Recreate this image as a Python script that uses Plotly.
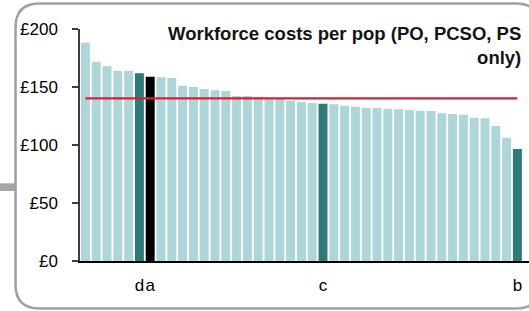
import plotly.graph_objects as go

# ---- data ----
values = [188.4, 172.1, 168.1, 164.3, 164.3, 162.1, 159.2, 158.6, 158.0, 151.4,
          150.3, 148.5, 147.4, 146.8, 142.5, 142.5, 141.9, 141.2, 140.8, 138.4,
          137.3, 136.5, 135.9, 135.3, 134.1, 133.3, 132.4, 132.4, 131.6, 131.0,
          130.4, 129.8, 129.6, 127.6, 127.0, 126.4, 123.8, 123.3, 116.6, 106.6,
          96.8]
positions = list(range(len(values)))
highlight_teal = [5, 22, 40]
highlight_black = [6]
tick_positions = [5, 6, 22, 40]
tick_labels = ["d", "a", "c", "b"]
average_value = 140.5
y_ticks = [0, 50, 100, 150, 200]
y_tick_labels = ["£0", "£50", "£100", "£150", "£200"]
title_text = "Workforce costs per pop (PO, PCSO, PS<br>only)"

LIGHT = "rgb(174,214,216)"
TEAL = "rgb(47,121,121)"
BLACK = "rgb(0,0,0)"
RED = "rgb(213,31,62)"

colors = []
for i in positions:
    if i in highlight_black:
        colors.append(BLACK)
    elif i in highlight_teal:
        colors.append(TEAL)
    else:
        colors.append(LIGHT)

W, H = 529, 311
def px(x):
    return x / W
def py(y):
    return 1 - y / H

fig = go.Figure()
fig.add_trace(go.Bar(x=positions, y=values, marker=dict(color=colors, line=dict(width=0)),
                     showlegend=False, hoverinfo="y"))
fig.add_trace(go.Scatter(x=[positions[0], positions[-1]], y=[average_value, average_value],
                         mode="lines", line=dict(color=RED, width=2.2), showlegend=False,
                         hoverinfo="skip"))

# frame (rounded rectangle)
L, T, R, B, r = 15.5, 3.5, 540, 308.5, 24
path = (f"M {px(L+r)},{py(T)} L {px(R-r)},{py(T)} Q {px(R)},{py(T)} {px(R)},{py(T+r)} "
        f"L {px(R)},{py(B-r)} Q {px(R)},{py(B)} {px(R-r)},{py(B)} "
        f"L {px(L+r)},{py(B)} Q {px(L)},{py(B)} {px(L)},{py(B-r)} "
        f"L {px(L)},{py(T+r)} Q {px(L)},{py(T)} {px(L+r)},{py(T)} Z")

shapes = [
    dict(type="path", xref="paper", yref="paper", path=path,
         line=dict(color="rgb(160,160,160)", width=2.5), fillcolor="rgba(0,0,0,0)", layer="below"),
    dict(type="rect", xref="paper", yref="paper", x0=px(0), x1=px(15), y0=py(183.3), y1=py(191),
         line=dict(width=0), fillcolor="rgb(166,166,166)", layer="below"),
]

x_left, x_right = 80, 529
y_top, y_bot = 29.3, 261.3
bar_pitch = (517.5 - 85.5) / 40
x_max = -0.5 + (x_right - x_left) / bar_pitch

fig.update_layout(
    width=W, height=H,
    margin=dict(l=0, r=0, t=0, b=0, pad=0),
    paper_bgcolor="white", plot_bgcolor="white",
    bargap=0.17,
    font=dict(family="Liberation Sans, Arial, sans-serif", color="black"),
    shapes=shapes,
    xaxis=dict(domain=[px(x_left), px(x_right)], range=[-0.5, x_max], automargin=False,
               tickmode="array", tickvals=tick_positions, ticktext=tick_labels, tickangle=0,
               showline=True, linecolor="black", linewidth=1.5, ticks="",
               showgrid=False, zeroline=False, tickfont=dict(size=17),
               ticklabelstandoff=8),
    yaxis=dict(domain=[py(y_bot), py(y_top)], range=[0, 200], automargin=False,
               tickmode="array", tickvals=y_ticks, ticktext=y_tick_labels,
               showline=True, linecolor="rgb(60,60,60)", linewidth=1.5,
               ticks="outside", ticklen=6, tickcolor="rgb(60,60,60)", tickwidth=1.5,
               showgrid=False, zeroline=False, tickfont=dict(size=17),
               ticklabelstandoff=11),
    annotations=[
        dict(text="<b>" + title_text.replace("<br>", "</b><br><b>") + "</b>",
             xref="paper", yref="paper", align="right",
             x=px(523), y=py(45), xanchor="right", yanchor="middle", showarrow=False,
             font=dict(size=18.5, color="rgb(20,20,20)")),
    ],
)

fig.write_html("out.html", config={"displayModeBar": False},
               post_script="document.body.style.margin='0';document.body.style.overflow='hidden';")
